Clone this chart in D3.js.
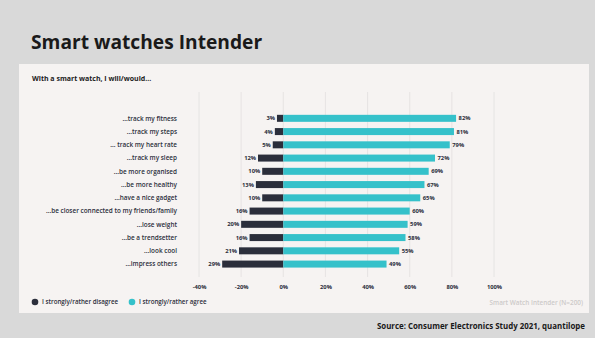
<!DOCTYPE html>
<html><head><meta charset="utf-8">
<script src="https://cdn.jsdelivr.net/npm/d3@7"></script>
<style>
html,body{margin:0;padding:0;background:#d9d9d9;}
svg{display:block;font-family:"Open Sans",sans-serif;}
</style></head>
<body>
<script>
const categories = ["...track my fitness","...track my steps","... track my heart rate","...track my sleep","...be more organised","...be more healthy","...have a nice gadget","...be closer connected to my friends/family","...lose weight","...be a trendsetter","...look cool","...impress others"];
const disagree = [3,4,5,12,10,13,10,16,20,16,21,29];
const agree = [82,81,79,72,69,67,65,60,59,58,55,49];
const tickValues = [-40,-20,0,20,40,60,80,100];
const seriesNames = ["I strongly/rather disagree","I strongly/rather agree"];
const colors = ["#2b2e3b","#35c1ca"];

const W=595,H=338;
const svg=d3.select("body").append("svg").attr("width",W).attr("height",H);
svg.append("rect").attr("width",W).attr("height",H).attr("fill","#d9d9d9");
svg.append("text").attr("x",31).attr("y",49).attr("font-size",19.2).attr("font-weight",700).attr("fill","#1a1a1a").text("Smart watches Intender");
svg.append("rect").attr("x",19).attr("y",64).attr("width",570).attr("height",249).attr("fill","#f6f3f2");
svg.append("text").attr("x",32).attr("y",81).attr("font-size",7).attr("font-weight",700).attr("fill","#1a1a1a").text("With a smart watch, I will/would...");

const x=d3.scaleLinear().domain([-40,100]).range([199,494]);
const y=d3.scaleBand().domain(categories).range([111.7,270.7]);
const bh=7;

const g=svg.append("g");
g.selectAll("line.grid").data(tickValues).join("line").attr("class","grid")
 .attr("x1",d=>x(d)).attr("x2",d=>x(d)).attr("y1",92).attr("y2",277)
 .attr("stroke","#e2e0df").attr("stroke-width",0.8);

const rows=categories.map((c,i)=>({c,d:disagree[i],a:agree[i]}));
g.selectAll("rect.dis").data(rows).join("rect").attr("class","dis")
 .attr("x",d=>x(-d.d)).attr("y",d=>y(d.c)+y.bandwidth()/2-bh/2).attr("width",d=>x(0)-x(-d.d)).attr("height",bh).attr("fill",colors[0]);
g.selectAll("rect.agr").data(rows).join("rect").attr("class","agr")
 .attr("x",x(0)).attr("y",d=>y(d.c)+y.bandwidth()/2-bh/2).attr("width",d=>x(d.a)-x(0)).attr("height",bh).attr("fill",colors[1]);
g.selectAll("text.dl").data(rows).join("text").attr("class","dl")
 .attr("x",d=>x(-d.d)-2).attr("y",d=>y(d.c)+y.bandwidth()/2).attr("dy","0.35em").attr("text-anchor","end")
 .attr("font-size",5.8).attr("font-weight",700).attr("fill","#2b2e3b").text(d=>d.d+"%");
g.selectAll("text.al").data(rows).join("text").attr("class","al")
 .attr("x",d=>x(d.a)+2.5).attr("y",d=>y(d.c)+y.bandwidth()/2).attr("dy","0.35em")
 .attr("font-size",5.8).attr("font-weight",700).attr("fill","#2b2e3b").text(d=>d.a+"%");
g.selectAll("text.cat").data(categories).join("text").attr("class","cat")
 .attr("x",177).attr("y",d=>y(d)+y.bandwidth()/2).attr("dy","0.35em").attr("text-anchor","end")
 .attr("font-size",6.4).attr("font-weight",600).attr("fill","#2b2e3b").text(d=>d);

const ax=svg.append("g").attr("transform","translate(0,282)")
 .call(d3.axisBottom(x).tickValues(tickValues).tickSize(0).tickFormat(d=>d+"%"));
ax.select(".domain").remove();
ax.selectAll("text").attr("font-size",5.8).attr("font-weight",700).attr("fill","#2b2e3b").attr("font-family","'Open Sans',sans-serif");

const leg=svg.append("g");
const lx=[35,132];
seriesNames.forEach((n,i)=>{
 leg.append("circle").attr("cx",lx[i]).attr("cy",302).attr("r",3.3).attr("fill",colors[i]);
 leg.append("text").attr("x",lx[i]+7).attr("y",302).attr("dy","0.35em").attr("font-size",6.2).attr("font-weight",600).attr("fill","#2b2e3b").text(n);
});
svg.append("text").attr("x",583).attr("y",305).attr("text-anchor","end").attr("font-size",6.4).attr("font-weight",600).attr("fill","#cdcac9").text("Smart Watch Intender (N=200)");
svg.append("text").attr("x",585).attr("y",329).attr("text-anchor","end").attr("font-size",7.9).attr("font-weight",700).attr("fill","#1a1a1a").text("Source: Consumer Electronics Study 2021, quantilope");
</script>
</body></html>
